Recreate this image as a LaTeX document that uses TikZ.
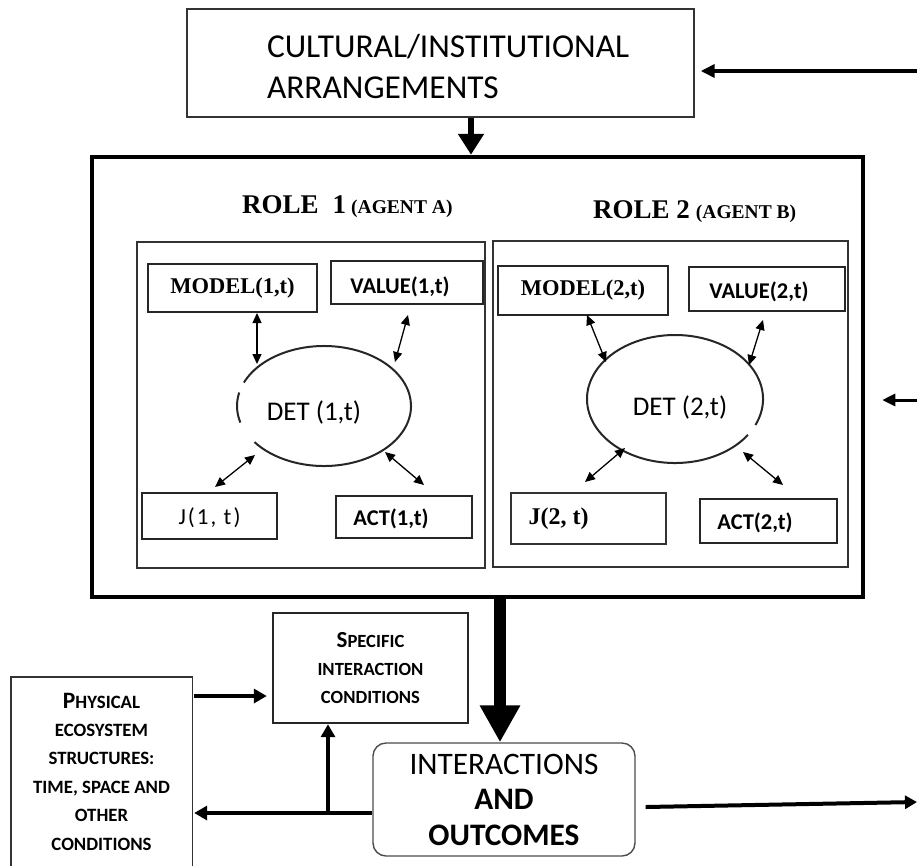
\documentclass[tikz,border=0pt]{standalone}
\usepackage{fontspec}
\setmainfont{Carlito}
\newfontfamily\tms{Liberation Serif}
\usetikzlibrary{arrows.meta,calc}
\newcommand{\lowr}[2]{\raisebox{-#1}[\height][\depth]{#2}}
\begin{document}
\begin{tikzpicture}[x=1pt,y=-1pt,
  thinbox/.style={draw=black!80, line width=1.4pt, inner sep=0pt},
  smallbox/.style={draw=black!85, line width=2.2pt, inner sep=0pt},
  ell/.style={draw=black!85, line width=2pt},
  bi/.style={{Triangle[length=10pt,width=9pt]}-{Triangle[length=10pt,width=9pt]}, line width=1.3pt},
  tmsb/.style={font=\tms\bfseries\fontsize{22.5}{26}\selectfont},
  sansb/.style={font=\bfseries\fontsize{22.5}{26}\selectfont},
  fat/.style={line width=4pt},
]
\useasboundingbox (0,0) rectangle (917,865);

% top box
\node[thinbox, minimum width=507pt, minimum height=108pt, text width=507pt, align=left,
      font=\fontsize{33.4}{41}\selectfont] (cult) at (440.5,63)
  {\hspace*{80pt}\rule{0pt}{31pt}CULTURAL/INSTITUTIONAL\\\hspace*{80pt}ARRANGEMENTS};

% main box
\node[draw, line width=4.5pt, minimum width=771pt, minimum height=440pt, inner sep=0pt] (main) at (477.5,377) {};

% role labels
\node[anchor=base west, inner sep=0pt, font=\tms\bfseries\fontsize{27}{30}\selectfont] (role1) at (242,213)
  {ROLE\hspace{14pt}1\hspace{5pt}{\fontsize{19.5}{20}\selectfont(AGENT A)}};
\node[anchor=base west, inner sep=0pt, font=\tms\bfseries\fontsize{27}{30}\selectfont] (role2) at (593,218)
  {ROLE 2\hspace{6pt}{\fontsize{19.5}{20}\selectfont(AGENT B)}};

% inner role boxes
\node[thinbox, line width=1.2pt, minimum width=348pt, minimum height=326pt] (r1) at (311,405) {};
\node[thinbox, line width=1.2pt, minimum width=355pt, minimum height=326pt] (r2) at (670.5,404) {};

% role 1 boxes
\node[smallbox, tmsb, minimum width=169pt, minimum height=48pt] (model1) at (232.5,288) {MODEL(1,t)};
\node[smallbox, sansb, minimum width=152pt, minimum height=43pt] (value1) at (407,282.5) {\lowr{4pt}{VALUE(1,t)}\hspace*{14pt}};
\node[smallbox, font=\fontsize{23}{26}\selectfont\addfontfeature{LetterSpace=9}, minimum width=135pt, minimum height=46pt] (j1) at (209.5,516) {\lowr{2pt}{J(1, t)}};
\node[smallbox, sansb, minimum width=136pt, minimum height=42pt] (act1) at (404,517) {\lowr{2pt}{ACT(1,t)}\hspace*{26pt}};

% role 2 boxes
\node[smallbox, tmsb, minimum width=170pt, minimum height=49pt] (model2) at (583,290.5) {MODEL(2,t)};
\node[smallbox, sansb, minimum width=156pt, minimum height=44pt] (value2) at (767,289) {\lowr{3pt}{VALUE(2,t)}\hspace*{16pt}};
\node[thinbox, tmsb, font=\tms\bfseries\fontsize{24}{26}\selectfont, minimum width=155pt, minimum height=51pt] (j2) at (588.5,518.5) {J(2, t)\hspace*{60pt}};
\node[smallbox, sansb, minimum width=137pt, minimum height=44pt] (act2) at (768.5,521) {\lowr{2pt}{ACT(2,t)}\hspace*{27pt}};

% DET ellipses
\node[inner sep=0pt, font=\fontsize{27}{30}\selectfont] (det1) at (314,412) {DET (1,t)};
\coordinate (e1) at (324,406);
\draw[ell, shift={(e1)}] (157:87pt and 60pt) arc[start angle=157, end angle=-143, x radius=87pt, y radius=60pt];
\draw[ell, shift={(e1)}] (167:87pt and 60pt) arc[start angle=167, end angle=196, x radius=87pt, y radius=60pt];

\node[inner sep=0pt, font=\fontsize{27}{30}\selectfont] (det2) at (680,407) {DET (2,t)};
\coordinate (e2) at (675,399);
\draw[ell, shift={(e2)}] (-24:88pt and 64pt) arc[start angle=-24, end angle=326, x radius=88pt, y radius=64pt];

% role 1 arrows
\coordinate (a1s) at (257,313); \coordinate (a1e) at (257,364);
\coordinate (a2s) at (408,315); \coordinate (a2e) at (395,362);
\coordinate (a3s) at (215,487); \coordinate (a3e) at (255,455);
\coordinate (a4s) at (385,452); \coordinate (a4e) at (424,485);
\draw[bi] (a1s) -- (a1e);
\draw[bi] (a2s) -- (a2e);
\draw[bi] (a3s) -- (a3e);
\draw[bi] (a4s) -- (a4e);
% role 2 arrows
\coordinate (b1s) at (587,315); \coordinate (b1e) at (606,362);
\coordinate (b2s) at (763,320); \coordinate (b2e) at (749,365);
\coordinate (b3s) at (585,482); \coordinate (b3e) at (625,448);
\coordinate (b4s) at (743,452); \coordinate (b4e) at (783,485);
\draw[bi] (b1s) -- (b1e);
\draw[bi] (b2s) -- (b2e);
\draw[bi] (b3s) -- (b3e);
\draw[bi] (b4s) -- (b4e);

% bottom nodes
\node[smallbox, line width=2.4pt, minimum width=195pt, minimum height=110pt, align=center,
      font=\bfseries\fontsize{18.6}{28}\selectfont] (spec) at (370.5,668)
  {{\fontsize{23}{28}\selectfont S}PECIFIC\\INTERACTION\\CONDITIONS};
\node[inner sep=0pt, minimum width=181pt, minimum height=189pt, align=center,
      font=\bfseries\fontsize{18.8}{28.4}\selectfont] (phys) at (101.5,771.5)
  {{\fontsize{23.5}{28.4}\selectfont P}HYSICAL\\ECOSYSTEM\\STRUCTURES:\\TIME, SPACE AND\\OTHER\\CONDITIONS};
\draw[draw=black!80, line width=1.4pt] (phys.south west) -- (phys.north west) -- (phys.north east) -- (phys.south east);
\node[draw=black!70, line width=1.4pt, rounded corners=13pt, minimum width=262pt, minimum height=113pt, inner sep=0pt,
      align=center, font=\fontsize{31.3}{35.5}\selectfont] (inter) at (504,799.5)
  {INTERACTIONS\\\textbf{AND}\\\textbf{OUTCOMES}};

% connectors
\coordinate (rin1) at (917,71);
\draw[line width=3.5pt, -{Triangle[length=14pt,width=13pt]}, shorten >=6pt] (rin1) -- (cult.east |- rin1);
\path (cult.south) ++(30.5,0) coordinate (tds);
\draw[line width=6pt, -{Triangle[length=21pt,width=25pt]}] (tds) -- (tds |- main.north);
\coordinate (rin2) at (917,400);
\draw[line width=3pt, -{Triangle[length=13pt,width=12pt]}, shorten >=17pt] (rin2) -- (main.east |- rin2);
\path (main.south) ++(22.5,0) coordinate (tk);
\draw[line width=12pt, -{Triangle[length=37pt,width=38pt]}] (tk) -- (tk |- inter.north);
\coordinate (rout) at (917,802);
\draw[fat, -{Triangle[length=12pt,width=13pt]}] ($(inter.east)+(10,7.5)$) -- (rout);
\path (spec.west) ++(0,28) coordinate (sw);
\draw[fat, -{Triangle[length=13pt,width=14pt]}, shorten <=2pt, shorten >=5pt] (phys.east |- sw) -- (sw);
\path (inter.west) ++(0,13.5) coordinate (jn);
\draw[fat, -{Triangle[length=13pt,width=14pt]}, shorten >=2pt] (jn) -- (phys.east |- jn);
\path (spec.south) ++(-42.5,0) coordinate (vs);
\draw[fat, -{Triangle[length=13pt,width=14pt]}] (vs |- jn) -- (vs);
\end{tikzpicture}
\end{document}
